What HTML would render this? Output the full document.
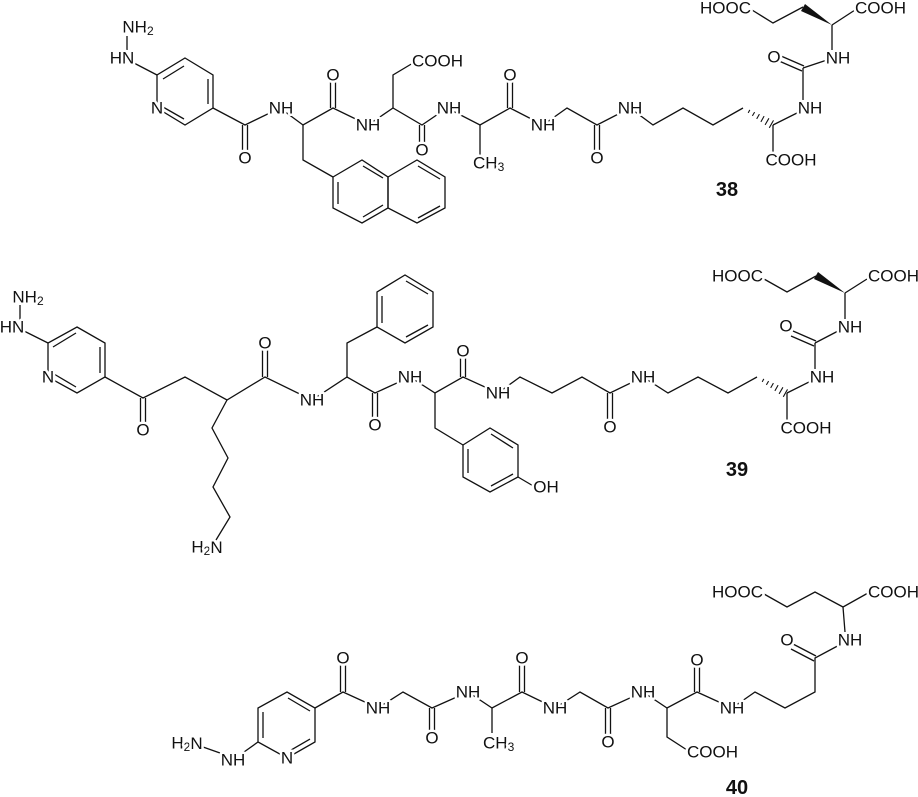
<!DOCTYPE html>
<html><head><meta charset="utf-8"><style>
html,body{margin:0;padding:0;background:#fff;}
svg{display:block;}
.b{stroke:#111;stroke-width:1.3;fill:none;stroke-linejoin:miter;}
svg text{font-family:"Liberation Sans",sans-serif;font-size:17px;fill:#111;dominant-baseline:central;stroke:#fff;stroke-width:5px;paint-order:stroke;stroke-linejoin:round;}
.m{text-anchor:middle;}.s{text-anchor:start;}.e{text-anchor:end;}
svg text.lab{font-weight:bold;font-size:20px;}
svg tspan.sub{font-size:12px;}
</style></head><body>
<svg width="918" height="797" viewBox="0 0 918 797" xmlns="http://www.w3.org/2000/svg" font-family="Liberation Sans, sans-serif" font-size="17">
<!-- ===== 38 ===== -->
<g class="b">
<line x1="127" y1="36" x2="127" y2="50"/>
<line x1="132" y1="62" x2="157" y2="75"/>
<polygon points="185,58 213,75 213,108 185,125 157,108 157,75"/>
<line x1="163" y1="79" x2="184" y2="66"/>
<line x1="208" y1="79" x2="208" y2="104"/>
<line x1="184" y1="119" x2="163" y2="107"/>
<polyline points="213,108 245,125 280,108 303,125 333,108 368,125 393,108 422,125 447,108 480,125 510,108 543,125 567,108 597,125 630,108 653,125 683,108 713,125 743,108"/>
<line x1="242.5" y1="125" x2="242.5" y2="152"/><line x1="247.5" y1="125" x2="247.5" y2="152"/>
<line x1="330.5" y1="108" x2="330.5" y2="82"/><line x1="335.5" y1="108" x2="335.5" y2="82"/>
<line x1="419.5" y1="125" x2="419.5" y2="145"/><line x1="424.5" y1="125" x2="424.5" y2="145"/>
<line x1="507.5" y1="108" x2="507.5" y2="82"/><line x1="512.5" y1="108" x2="512.5" y2="82"/>
<line x1="594.5" y1="125" x2="594.5" y2="152"/><line x1="599.5" y1="125" x2="599.5" y2="152"/>
<polyline points="303,125 303,160 333,177"/>
<polygon points="333,177 362,160 388,177 388,208 362,223 333,208"/>
<polygon points="388,177 417,160 445,177 445,208 417,223 388,208"/>
<line x1="338" y1="182" x2="338" y2="204"/>
<line x1="363" y1="166" x2="383" y2="178"/>
<line x1="363" y1="217" x2="383" y2="205"/>
<line x1="418" y1="166" x2="440" y2="179"/>
<line x1="440" y1="206" x2="418" y2="218"/>
<polyline points="393,108 393,75 413,63"/>
<line x1="480" y1="125" x2="480" y2="155"/>
<line x1="773" y1="125" x2="773" y2="152"/>
<line x1="773" y1="125" x2="803" y2="110"/>
<line x1="803" y1="100" x2="803" y2="68"/>
<line x1="804" y1="66" x2="781" y2="56"/><line x1="802" y1="71" x2="779" y2="61"/>
<line x1="803" y1="68" x2="827" y2="60"/>
<line x1="832" y1="50" x2="832" y2="25"/>
<line x1="832" y1="25" x2="855" y2="10"/>
<polyline points="803,7 773,23 752,10"/>
</g>
<polygon points="832,25 805,4 801,11" fill="#111"/>
<g id="hash" stroke="#111" stroke-width="1.1">
<line x1="748.2" y1="112.9" x2="749.8" y2="109.9"/>
<line x1="752.4" y1="115.9" x2="754.6" y2="112.1"/>
<line x1="756.7" y1="118.9" x2="759.4" y2="114.1"/>
<line x1="760.9" y1="121.9" x2="764.1" y2="116.1"/>
<line x1="765.1" y1="124.9" x2="768.9" y2="118.3"/>
<line x1="769.3" y1="127.8" x2="773.5" y2="120.4"/>
</g>
<text x="138" y="27" class="m">NH<tspan class="sub" dy="4">2</tspan></text>
<text x="122" y="58" class="m">HN</text>
<text x="157" y="108" class="m">N</text>
<text x="245" y="158" class="m">O</text>
<text x="281" y="108" class="m">NH</text>
<text x="333" y="75" class="m">O</text>
<text x="368" y="125" class="m">NH</text>
<text x="412" y="61" class="s">COOH</text>
<text x="422" y="150" class="m">O</text>
<text x="449" y="108" class="m">NH</text>
<text x="510" y="75" class="m">O</text>
<text x="473" y="163" class="s">CH<tspan class="sub" dy="4">3</tspan></text>
<text x="543" y="125" class="m">NH</text>
<text x="597" y="158" class="m">O</text>
<text x="630" y="108" class="m">NH</text>
<text x="791" y="160" class="m">COOH</text>
<text x="810" y="108" class="m">NH</text>
<text x="774" y="57" class="m">O</text>
<text x="838" y="58" class="m">NH</text>
<text x="855" y="8" class="s">COOH</text>
<text x="751" y="8" class="e">HOOC</text>
<text x="727" y="190" class="m lab">38</text>

<!-- ===== 39 ===== -->
<g class="b">
<line x1="20" y1="305" x2="20" y2="320"/>
<line x1="24" y1="331" x2="48" y2="343"/>
<polygon points="77,327 105,343 105,377 77,393 48,377 48,343"/>
<line x1="53" y1="347" x2="76" y2="333"/>
<line x1="100" y1="347" x2="100" y2="373"/>
<line x1="76" y1="387" x2="54" y2="374"/>
<polyline points="105,377 143,398 185,377 227,400 265,377 312,400 347,377 375,393 410,377 435,393 463,377 498,393 520,377 552,393 582,377 610,393 643,377 668,393 698,377 728,393 757,377"/>
<line x1="140.5" y1="398" x2="140.5" y2="423"/><line x1="145.5" y1="398" x2="145.5" y2="423"/>
<line x1="262.5" y1="377" x2="262.5" y2="350"/><line x1="267.5" y1="377" x2="267.5" y2="350"/>
<line x1="372.5" y1="393" x2="372.5" y2="418"/><line x1="377.5" y1="393" x2="377.5" y2="418"/>
<line x1="460.5" y1="377" x2="460.5" y2="357"/><line x1="465.5" y1="377" x2="465.5" y2="357"/>
<line x1="607.5" y1="393" x2="607.5" y2="420"/><line x1="612.5" y1="393" x2="612.5" y2="420"/>
<polyline points="227,400 212,428 228,458 213,487 230,517 216,540"/>
<polyline points="347,377 347,343 377,327"/>
<polygon points="377,327 377,292 405,275 433,292 433,327 405,343"/>
<line x1="406" y1="281" x2="428" y2="294"/>
<line x1="428" y1="325" x2="406" y2="337"/>
<line x1="382" y1="296" x2="382" y2="323"/>
<polyline points="435,393 435,428 463,445"/>
<polygon points="463,445 490,428 518,445 518,477 490,492 463,477"/>
<line x1="468" y1="449" x2="468" y2="473"/>
<line x1="491" y1="434" x2="513" y2="448"/>
<line x1="513" y1="474" x2="491" y2="486"/>
<line x1="518" y1="477" x2="535" y2="487"/>
<line x1="787" y1="393" x2="787" y2="420"/>
<line x1="787" y1="393" x2="815" y2="379"/>
<line x1="815" y1="369" x2="815" y2="343"/>
<line x1="816" y1="341" x2="793" y2="331"/><line x1="814" y1="346" x2="791" y2="336"/>
<line x1="815" y1="343" x2="840" y2="330"/>
<line x1="845" y1="319" x2="845" y2="293"/>
<line x1="845" y1="293" x2="867" y2="279"/>
<polyline points="816,276 787,292 764,279"/>
</g>
<polygon points="845,293 818,272 814,279" fill="#111"/>
<use href="#hash" transform="translate(14,269)"/>
<text x="28" y="297" class="m">NH<tspan class="sub" dy="4">2</tspan></text>
<text x="12" y="327" class="m">HN</text>
<text x="48" y="377" class="m">N</text>
<text x="143" y="430" class="m">O</text>
<text x="265" y="343" class="m">O</text>
<text x="312" y="400" class="m">NH</text>
<text x="375" y="425" class="m">O</text>
<text x="410" y="377" class="m">NH</text>
<text x="463" y="351" class="m">O</text>
<text x="498" y="393" class="m">NH</text>
<text x="610" y="427" class="m">O</text>
<text x="643" y="377" class="m">NH</text>
<text x="546" y="487" class="m">OH</text>
<text x="207" y="547" class="m">H<tspan class="sub" dy="4">2</tspan><tspan dy="-4">N</tspan></text>
<text x="806" y="428" class="m">COOH</text>
<text x="822" y="377" class="m">NH</text>
<text x="786" y="326" class="m">O</text>
<text x="850" y="327" class="m">NH</text>
<text x="868" y="276" class="s">COOH</text>
<text x="763" y="276" class="e">HOOC</text>
<text x="737" y="470" class="m lab">39</text>

<!-- ===== 40 ===== -->
<g class="b">
<line x1="203" y1="747" x2="220" y2="753"/>
<line x1="244" y1="752" x2="258" y2="742"/>
<polygon points="258,742 258,708 287,692 315,708 315,742 287,758"/>
<line x1="263" y1="712" x2="263" y2="738"/>
<line x1="288" y1="698" x2="310" y2="711"/>
<line x1="310" y1="739" x2="291" y2="750"/>
<polyline points="315,708 343,692 378,708 403,692 432,708 468,692 492,708 522,692 555,708 580,692 608,708 643,692 667,708 697,692 732,708 755,692 785,708 815,692 815,658 845,642"/>
<line x1="340.5" y1="692" x2="340.5" y2="665"/><line x1="345.5" y1="692" x2="345.5" y2="665"/>
<line x1="429.5" y1="708" x2="429.5" y2="732"/><line x1="434.5" y1="708" x2="434.5" y2="732"/>
<line x1="519.5" y1="692" x2="519.5" y2="665"/><line x1="524.5" y1="692" x2="524.5" y2="665"/>
<line x1="605.5" y1="708" x2="605.5" y2="735"/><line x1="610.5" y1="708" x2="610.5" y2="735"/>
<line x1="694.5" y1="692" x2="694.5" y2="667"/><line x1="699.5" y1="692" x2="699.5" y2="667"/>
<line x1="816" y1="656" x2="793" y2="644"/><line x1="814" y1="661" x2="791" y2="649"/>
<line x1="492" y1="708" x2="492" y2="733"/>
<polyline points="667,708 667,737 687,750"/>
<polyline points="845,632 843,607 868,593"/>
<polyline points="843,607 815,592 787,607 764,594"/>
</g>
<text x="187" y="743" class="m">H<tspan class="sub" dy="4">2</tspan><tspan dy="-4">N</tspan></text>
<text x="233" y="760" class="m">NH</text>
<text x="287" y="758" class="m">N</text>
<text x="343" y="658" class="m">O</text>
<text x="378" y="708" class="m">NH</text>
<text x="432" y="738" class="m">O</text>
<text x="468" y="692" class="m">NH</text>
<text x="483" y="743" class="s">CH<tspan class="sub" dy="4">3</tspan></text>
<text x="522" y="658" class="m">O</text>
<text x="555" y="708" class="m">NH</text>
<text x="608" y="742" class="m">O</text>
<text x="643" y="692" class="m">NH</text>
<text x="687" y="752" class="s">COOH</text>
<text x="697" y="660" class="m">O</text>
<text x="732" y="708" class="m">NH</text>
<text x="787" y="640" class="m">O</text>
<text x="850" y="640" class="m">NH</text>
<text x="868" y="592" class="s">COOH</text>
<text x="763" y="592" class="e">HOOC</text>
<text x="737" y="788" class="m lab">40</text>
</svg>
</body></html>
